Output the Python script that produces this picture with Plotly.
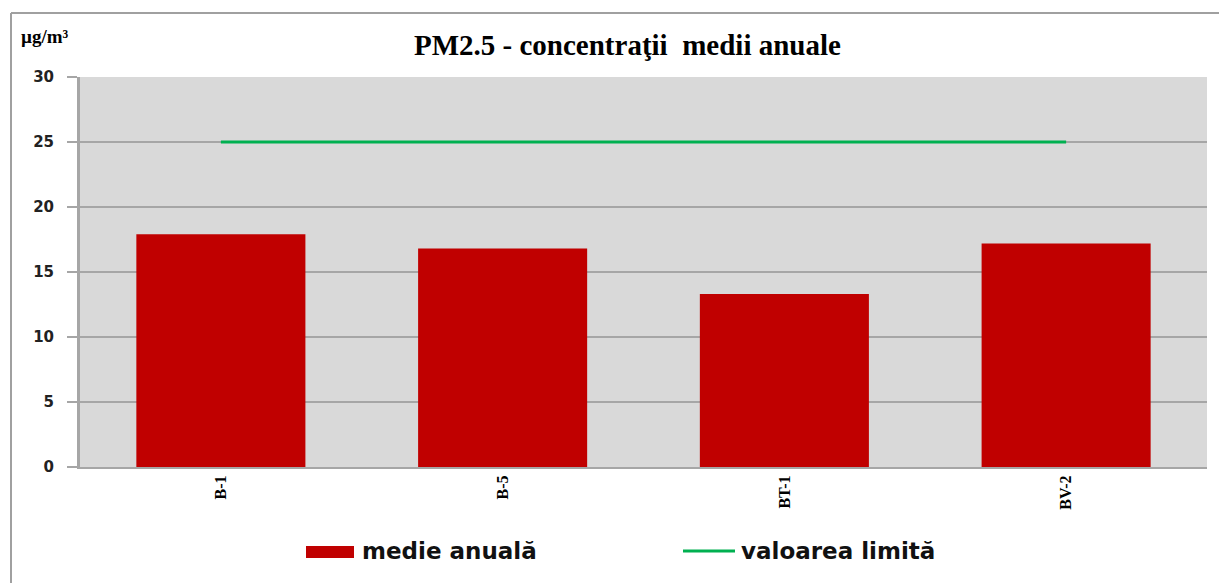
import plotly.graph_objects as go

# ---- data ----
stations = ["B-1", "B-5", "BT-1", "BV-2"]
annual_mean = [17.9, 16.8, 13.3, 17.2]
limit_value = [25, 25, 25, 25]
y_ticks = [0, 5, 10, 15, 20, 25, 30]

title_text = "PM2.5 - concentraţii  medii anuale"
unit_text = "µg/m³"
legend_bar = "medie anuală"
legend_line = "valoarea limită"

# ---- layout helpers (page has an 8px body margin) ----
OFF = 8
W, H = 1227 - OFF, 583 - OFF
L, R, T, B = 80 - OFF, 20, 77 - OFF, 116
pw, ph = W - L - R, H - T - B
PLOT_LEFT, PLOT_BOTTOM = 80, 467  # page coordinates


def px(x):
    return (x - PLOT_LEFT) / pw


def py(y):
    return (PLOT_BOTTOM - y) / ph


fig = go.Figure()
fig.add_trace(go.Bar(
    x=stations, y=annual_mean, name=legend_bar,
    marker=dict(color="#c00000", line=dict(width=0)),
    showlegend=False,
))
fig.add_trace(go.Scatter(
    x=stations, y=limit_value, name=legend_line, mode="lines",
    line=dict(color="#00b050", width=3),
    showlegend=False,
))

grid_col = "#a6a6a6"
shapes = [
    # outer chart border (left and top)
    dict(type="line", xref="paper", yref="paper", x0=px(11), x1=px(1240), y0=py(13), y1=py(13),
         line=dict(color="#a0a0a0", width=2)),
    dict(type="line", xref="paper", yref="paper", x0=px(11), x1=px(11), y0=py(13), y1=py(600),
         line=dict(color="#a0a0a0", width=2)),
    # legend symbols
    dict(type="rect", xref="paper", yref="paper", x0=px(306), x1=px(354), y0=py(546), y1=py(558),
         fillcolor="#c00000", line=dict(width=0)),
    dict(type="line", xref="paper", yref="paper", x0=px(683), x1=px(735), y0=py(551), y1=py(551),
         line=dict(color="#00b050", width=3)),
]

annotations = [
    dict(text=f"<b>{title_text}</b>", xref="paper", yref="paper", x=px(627), y=py(45),
         showarrow=False, xanchor="center", yanchor="middle",
         font=dict(family="Liberation Serif", size=29, color="#000")),
    dict(text=f"<b>{unit_text}</b>", xref="paper", yref="paper", x=px(19), y=py(37),
         showarrow=False, xanchor="left", yanchor="middle",
         font=dict(family="Liberation Serif", size=19, color="#000")),
    dict(text=f"<b>{legend_bar}</b>", xref="paper", yref="paper", x=px(360), y=py(551),
         showarrow=False, xanchor="left", yanchor="middle",
         font=dict(family="DejaVu Sans", size=23, color="#111")),
    dict(text=f"<b>{legend_line}</b>", xref="paper", yref="paper", x=px(739), y=py(551),
         showarrow=False, xanchor="left", yanchor="middle",
         font=dict(family="DejaVu Sans", size=23, color="#111")),
]

fig.update_layout(
    width=W, height=H,
    margin=dict(l=L, r=R, t=T, b=B, pad=0),
    paper_bgcolor="white",
    plot_bgcolor="#d9d9d9",
    bargap=0.4,
    shapes=shapes,
    annotations=annotations,
    showlegend=False,
)
fig.update_xaxes(
    tickangle=-90,
    tickfont=dict(family="Liberation Serif", size=16, color="#000", weight="bold"),
    showline=True, linecolor=grid_col, linewidth=2,
    showgrid=False, ticks="", ticklen=0,
    ticklabelstandoff=0,
)
fig.update_yaxes(
    range=[0, 30], tickvals=y_ticks,
    tickfont=dict(family="DejaVu Sans", size=15, color="#222", weight="bold"),
    showline=True, linecolor=grid_col, linewidth=3,
    showgrid=True, gridcolor=grid_col, gridwidth=2,
    ticks="outside", ticklen=10, tickcolor=grid_col, tickwidth=2,
    ticklabelstandoff=10,
    zeroline=False,
)

fig.write_html("out.html")
